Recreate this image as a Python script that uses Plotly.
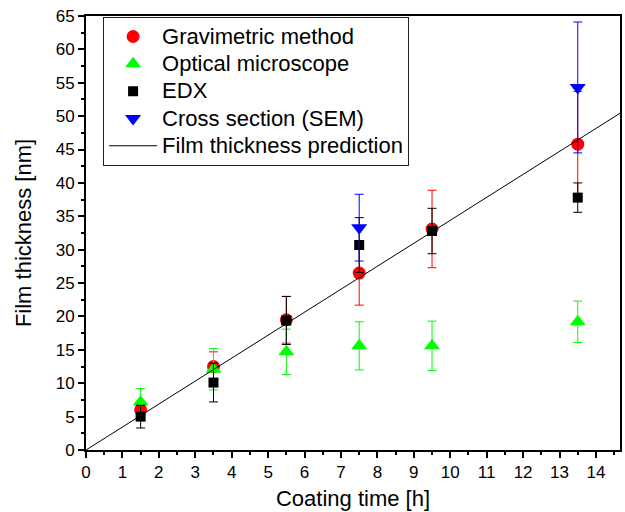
import plotly.graph_objects as go

# Coating times [h]
times = [1.5, 3.5, 5.5, 7.5, 9.5, 13.5]

# Gravimetric method
grav_thick = [6.0, 12.5, 19.5, 26.5, 33.1, 45.8]
grav_err = [1.0, 2.2, 3.5, 4.8, 5.8, 7.9]

# Optical microscope
opt_thick = [7.2, 12.1, 14.7, 15.6, 15.6, 19.2]
opt_err = [2.0, 3.1, 3.4, 3.6, 3.7, 3.1]

# EDX
edx_thick = [5.0, 10.1, 19.4, 30.7, 32.8, 37.8]
edx_err = [1.7, 2.9, 3.6, 4.1, 3.4, 2.2]

# Cross section (SEM)
sem_times = [7.5, 13.5]
sem_thick = [33.3, 54.3]
sem_err = [5.0, 9.8]

# Linear film thickness prediction
pred_time = [0, 15]
pred_thick = [0, 51.6]

FONT = "Arial, Liberation Sans, sans-serif"


def big(label):
    # legend entries drawn larger than the row spacing font
    return f'<span style="font-size:22px">{label}</span>'


fig = go.Figure()


def add_series(x, y, err, name, color, symbol, size):
    fig.add_trace(go.Scatter(
        x=x, y=y, name=big(name), mode="markers",
        marker=dict(color=color, symbol=symbol, size=size, line=dict(width=0)),
        error_y=dict(type="data", array=err, visible=True, color=color,
                     thickness=1, width=4.5),
    ))


add_series(times, grav_thick, grav_err, "Gravimetric method", "#ff0000", "circle", 13)
add_series(times, opt_thick, opt_err, "Optical microscope", "#00ff00", "triangle-up", 14)
add_series(times, edx_thick, edx_err, "EDX", "#000000", "square", 10)
add_series(sem_times, sem_thick, sem_err, "Cross section (SEM)", "#0000ff", "triangle-down", 14)

fig.add_trace(go.Scatter(
    x=pred_time, y=pred_thick, mode="lines", name=big("Film thickness prediction"),
    line=dict(color="black", width=1),
))

axis_common = dict(
    showgrid=False, zeroline=False, showline=True, linecolor="black",
    linewidth=2, mirror=True, ticks="outside", ticklen=6, tickwidth=1.5,
    tickcolor="black", tickfont=dict(size=17, color="black", family=FONT),
)

fig.update_xaxes(
    range=[0, 14.66], dtick=1, tick0=0,
    minor=dict(dtick=0.5, ticks="outside", ticklen=3, tickcolor="black", tickwidth=1.5),
    title=dict(text="Coating time [h]", font=dict(size=22, color="black", family=FONT), standoff=9),
    **axis_common,
)
fig.update_yaxes(
    range=[0, 65], dtick=5, tick0=0,
    minor=dict(dtick=2.5, ticks="outside", ticklen=3, tickcolor="black", tickwidth=1.5),
    title=dict(text="Film thickness [nm]", font=dict(size=22, color="black", family=FONT), standoff=18),
    **axis_common,
)

fig.update_layout(
    width=625, height=512,
    margin=dict(l=86, r=3, t=16, b=62),
    paper_bgcolor="white", plot_bgcolor="white",
    font=dict(family=FONT, color="black"),
    showlegend=True,
    legend=dict(
        x=0.032, y=0.998, xanchor="left", yanchor="top",
        bgcolor="white", bordercolor="#222222", borderwidth=1,
        font=dict(size=18.7, color="black", family=FONT),
        itemwidth=48, tracegroupgap=0,
    ),
)

fig.write_html("out.html")
